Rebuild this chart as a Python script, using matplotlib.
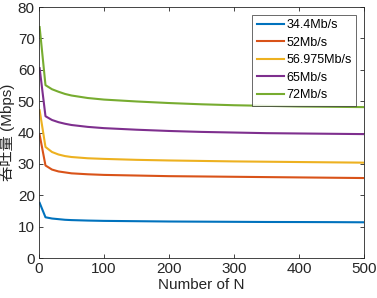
import numpy as np
import matplotlib
matplotlib.use("Agg")
import matplotlib.pyplot as plt

plt.rcParams['font.family'] = ['Liberation Sans', 'Noto Sans CJK SC']

N = [1, 10, 20, 30, 40, 50, 75, 100, 150, 200, 250, 300, 350, 400, 450, 500]
thr_344 = [17.6, 13.0, 12.6, 12.4, 12.2, 12.1, 11.95, 11.85, 11.75, 11.65, 11.6, 11.55, 11.5, 11.48, 11.45, 11.4]
thr_52 = [39.3, 29.5, 28.2, 27.6, 27.3, 27.0, 26.7, 26.5, 26.3, 26.1, 26.0, 25.9, 25.8, 25.7, 25.6, 25.5]
thr_56975 = [47.1, 35.4, 33.8, 33.0, 32.5, 32.2, 31.8, 31.6, 31.3, 31.1, 30.95, 30.8, 30.7, 30.6, 30.5, 30.4]
thr_65 = [60.5, 45.2, 44.0, 43.3, 42.8, 42.4, 41.8, 41.4, 40.9, 40.5, 40.2, 40.0, 39.8, 39.7, 39.6, 39.5]
thr_72 = [73.6, 55.1, 53.8, 53.0, 52.3, 51.8, 51.0, 50.5, 49.9, 49.4, 49.0, 48.7, 48.5, 48.3, 48.2, 48.1]

series = [thr_344, thr_52, thr_56975, thr_65, thr_72]
labels = ["34.4Mb/s", "52Mb/s", "56.975Mb/s", "65Mb/s", "72Mb/s"]
colors = ["#0072BD", "#D95319", "#EDB120", "#7E2F8E", "#77AC30"]

fig = plt.figure(figsize=(3.77, 2.98), dpi=100)
ax = fig.add_axes([0.1034, 0.134, 0.862, 0.8425])

for y, lab, c in zip(series, labels, colors):
    ax.plot(N, y, color=c, linewidth=1.5, label=lab)

ax.set_xlim(0, 500)
ax.set_ylim(0, 80)
ax.set_xticks([0, 100, 200, 300, 400, 500])
ax.set_yticks([0, 10, 20, 30, 40, 50, 60, 70, 80])
ax.tick_params(direction="in", top=True, right=True, labelsize=11,
               colors="#262626", length=3, width=0.6, pad=3)
for s in ax.spines.values():
    s.set_color("#262626")
    s.set_linewidth(0.6)

ax.set_xlabel("Number of N", fontsize=11, color="#262626", labelpad=1)
ax.set_ylabel("吞吐量 (Mbps)", fontsize=11, color="#262626", labelpad=2)

leg = ax.legend(loc="upper right", fontsize=9, handlelength=2.2,
                frameon=True, fancybox=False, edgecolor="#262626",
                borderaxespad=0.6, labelspacing=0.45, handletextpad=0.2,
                borderpad=0.35)
leg.get_frame().set_linewidth(0.6)

fig.savefig("out.png", dpi=100)
